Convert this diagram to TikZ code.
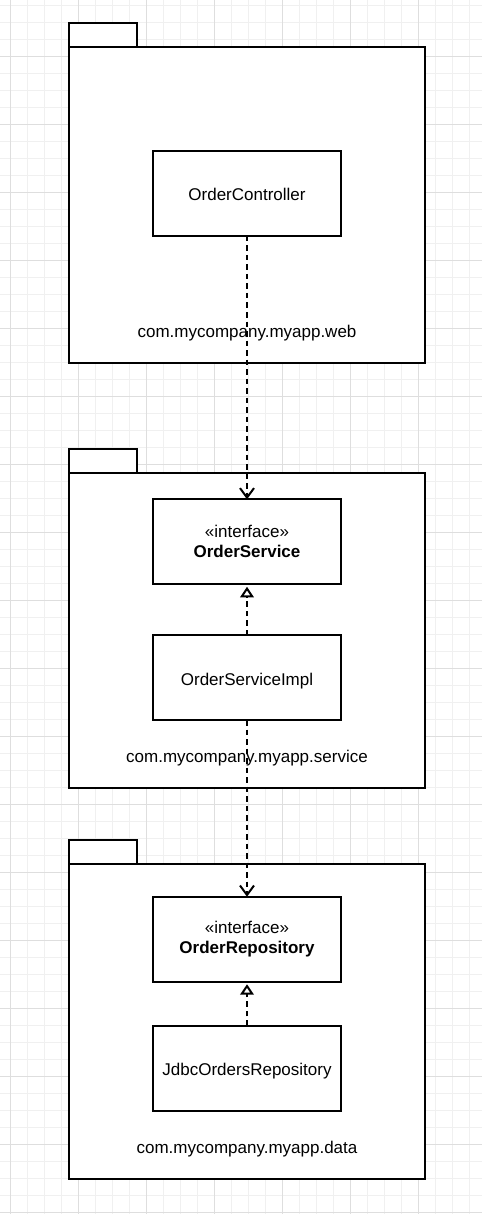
\documentclass[tikz,border=0pt]{standalone}
\usepackage{fontspec}
\setmainfont{Liberation Sans}
\usetikzlibrary{arrows.meta}
\definecolor{gridminor}{HTML}{F0F0F0}
\definecolor{gridmajor}{HTML}{DEDEDE}
\begin{document}
\begin{tikzpicture}[x=1pt,y=-1pt,
  minorgrid/.style={draw=gridminor, line width=1pt},
  majorgrid/.style={draw=gridmajor, line width=1pt},
  pkgbody/.style={draw=black, fill=white, line width=2pt, minimum width=356pt, minimum height=315pt, inner sep=0pt, outer sep=0pt},
  pkgtab/.style={draw=black, fill=white, line width=2pt, minimum width=67.5pt, minimum height=24pt, inner sep=0pt, outer sep=0pt},
  classbox/.style={draw=black, fill=white, line width=2pt, minimum width=188pt, minimum height=85pt, inner sep=0pt, outer sep=0pt, align=center, font=\fontsize{17}{20}\selectfont},
  singlebox/.style={classbox, text height=15pt, text depth=0pt},
  pkglabel/.style={anchor=base, inner sep=0pt, font=\fontsize{17}{20}\selectfont},
  dep/.style={draw=black, line width=2pt, dash pattern=on 5.5pt off 4pt, -{Straight Barb[length=9.5pt,width=14pt]}},
  real/.style={draw=black, line width=2pt, dash pattern=on 5.5pt off 4pt, -{Triangle[open,length=10.5pt,width=13.5pt]}, shorten >=2.5pt},
]
\fill[white] (0,0) rectangle (482,1214);
\useasboundingbox (0,0) rectangle (482,1214);
% background grid
\foreach \k in {0,...,27} {\draw[minorgrid] ({10.5+17*\k},0) -- ({10.5+17*\k},1214);}
\foreach \k in {0,...,71} {\draw[minorgrid] (0,{5.5+17*\k}) -- (482,{5.5+17*\k});}
\foreach \k in {0,4,...,24} {\draw[majorgrid] ({10.5+17*\k},0) -- ({10.5+17*\k},1214);}
\foreach \k in {3,7,...,71} {\draw[majorgrid] (0,{5.5+17*\k}) -- (482,{5.5+17*\k});}

% package web
\node[pkgtab] (webtab) at (102.75,35.5) {};
\node[pkgbody] (webpkg) at (247,205) {};
\node[pkglabel] (weblabel) at (247,337) {com.mycompany.myapp.web};
\node[singlebox] (ctrl) at (247,193.5) {OrderController};

% package service
\node[pkgtab] (svctab) at (102.75,460.5) {};
\node[pkgbody, minimum height=315.5pt] (svcpkg) at (247,630.25) {};
\node[pkglabel] (svclabel) at (247,762.7) {com.mycompany.myapp.service};
\node[classbox] (svc) at (247,541.8) {«interface»\\\textbf{OrderService}};
\node[singlebox] (impl) at (247,677.5) {OrderServiceImpl};

% package data
\node[pkgtab] (datatab) at (102.75,852) {};
\node[pkgbody] (datapkg) at (247,1021.5) {};
\node[pkglabel] (datalabel) at (247,1153.3) {com.mycompany.myapp.data};
\node[classbox] (repo) at (247,939.2) {«interface»\\\textbf{OrderRepository}};
\node[singlebox] (jdbc) at (247,1068.4) {JdbcOrdersRepository};

% connectors
\draw[dep] (ctrl.south) -- (svc.north);
\draw[real] (impl.north) -- (svc.south);
\draw[dep] (impl.south) -- (repo.north);
\draw[real] (jdbc.north) -- (repo.south);
\end{tikzpicture}
\end{document}
